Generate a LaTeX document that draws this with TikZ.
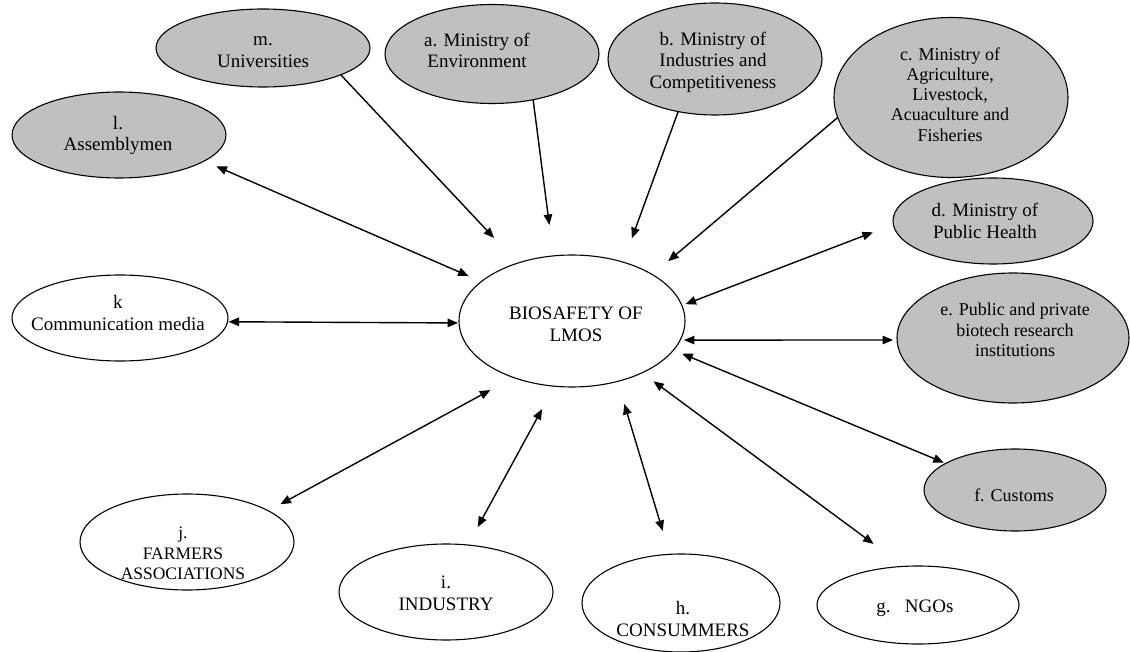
\documentclass[tikz,border=0pt]{standalone}
\usepackage{fontspec}
\setmainfont{Liberation Serif}
\usetikzlibrary{shapes.geometric,arrows.meta}
\definecolor{actorgray}{RGB}{192,192,192}
\tikzset{
  ell/.style={ellipse, draw=black, line width=1.1pt, inner sep=0pt, outer sep=0pt},
  govell/.style={ell, fill=actorgray},
  lbl/.style={align=center, inner sep=0pt, font=\fontsize{19}{21.5}\selectfont},
  lblsmall/.style={align=center, inner sep=0pt, font=\fontsize{18}{20.2}\selectfont},
  link/.style={line width=1.4pt, -{Triangle[length=10.5pt,width=8.5pt]}},
  twoway/.style={line width=1.4pt, {Triangle[length=10.5pt,width=8.5pt]}-{Triangle[length=10.5pt,width=8.5pt]}}
}
\begin{document}
\begin{tikzpicture}[x=1pt,y=-1pt]
\useasboundingbox (0,0) rectangle (1130,652);

% actor ellipses
\node[govell, minimum width=214pt, minimum height=78pt]  (m) at (263,48) {};
\node[govell, minimum width=214pt, minimum height=99pt]  (a) at (492,54) {};
\node[govell, minimum width=214pt, minimum height=112pt] (b) at (715,59) {};
\node[govell, minimum width=234pt, minimum height=160pt] (c) at (951,97.5) {};
\node[govell, minimum width=214pt, minimum height=86pt]  (l) at (119,135) {};
\node[govell, minimum width=200pt, minimum height=86pt]  (d) at (993,221) {};
\node[govell, minimum width=232pt, minimum height=130pt] (e) at (1013,338) {};
\node[govell, minimum width=182pt, minimum height=82pt]  (f) at (1015,490) {};
\node[ell, minimum width=216pt, minimum height=86pt]  (k) at (120,318) {};
\node[ell, minimum width=226pt, minimum height=132pt] (center) at (572,321) {};
\node[ell, minimum width=214pt, minimum height=96pt]  (j) at (187,542) {};
\node[ell, minimum width=214pt, minimum height=96pt]  (i) at (446,592) {};
\node[ell, minimum width=198pt, minimum height=98pt]  (h) at (681,603) {};
\node[ell, minimum width=202pt, minimum height=78pt]  (g) at (918,605) {};

% labels
\node[lbl] (mtext) at (263,52) {m.\\Universities};
\node[lbl] (atext) at (477,50.5) {a. Ministry of\\Environment};
\node[lbl] (btext) at (713,62) {b. Ministry of\\Industries and\\Competitiveness};
\node[lblsmall] (ctext) at (950,94.5) {c. Ministry of\\Agriculture,\\Livestock,\\Acuaculture and\\Fisheries};
\node[lbl] (ltext) at (118,135.5) {l.\\Assemblymen};
\node[lbl] (dtext) at (985,221) {d. Ministry of\\Public Health};
\node[lblsmall] (etext) at (1015,330) {e. Public and private\\biotech research\\institutions};
\node[lblsmall] (ftext) at (1014,495) {f. Customs};
\node[lbl] (ktext) at (118,313) {k\\Communication media};
\node[lbl] (centertext) at (576,324.5) {BIOSAFETY OF\\LMOS};
\node[align=center, inner sep=0pt, font=\fontsize{17.5}{20.5}\selectfont] (jtext) at (183,553.5) {j.\\FARMERS\\ASSOCIATIONS};
\node[lbl] (itext) at (446,593.5) {i.\\INDUSTRY};
\node[lbl] (htext) at (683,619) {h.\\CONSUMMERS};
\node[lbl] (gtext) at (915,608) {g.\ \ \ NGOs};

% one-way links into the centre
\draw[link, shorten >=34.5pt] (m.-19.3) -- (center);
\draw[link, shorten >=31.2pt] (a.-48.6) -- (center.106.2);
\draw[link, shorten >=25.5pt] (b.-125.5) -- (center.49.7);
\draw[link, shorten >=20.8pt] (c.-170.2) -- (center.30.2);

% two-way links
\draw[twoway, shorten <=13.3pt, shorten >=13.9pt] (l.-17.7) -- (center);
\draw[twoway, shorten <=1pt, shorten >=1pt] (k.-2.7) -- (center.181);
\draw[twoway, shorten <=21.9pt, shorten >=3.9pt] (d.182.5) -- (center.8.65);
\draw[twoway, shorten <=4pt, shorten >=3.8pt] (e.181) -- (center.-10);
\draw[twoway, shorten <=2.1pt, shorten >=9.5pt] (f.159.5) -- (center.-16.15);
\draw[twoway, shorten <=37.8pt, shorten >=14.2pt] (g.110.7) -- (center);
\draw[twoway, shorten <=24.4pt, shorten >=23.5pt] (h.103.9) -- (center.-53.2);
\draw[twoway, shorten <=20.4pt, shorten >=26pt] (i.65.7) -- (center.-105.9);
\draw[twoway, shorten <=13.8pt, shorten >=26.4pt] (j.21.2) -- (center.-136.2);
\end{tikzpicture}
\end{document}
